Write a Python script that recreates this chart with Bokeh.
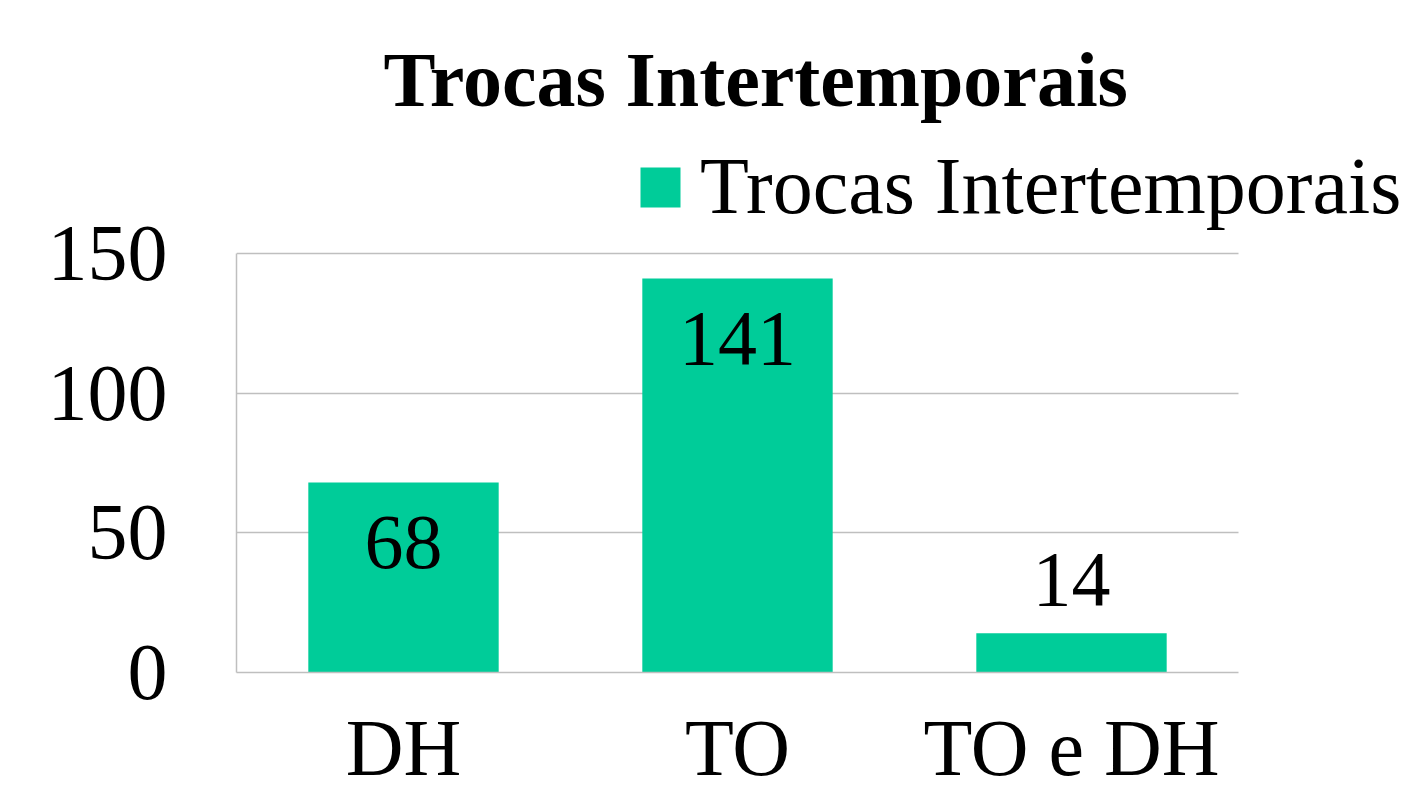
from bokeh.plotting import figure
from bokeh.models import ColumnDataSource, Range1d, Legend, LegendItem, FixedTicker, Title, Grid
from bokeh.embed import file_html
from bokeh.resources import INLINE
from bokeh.core.properties import value

categories = ["DH", "TO", "TO e DH"]
values = [68, 141, 14]
series_name = "Trocas Intertemporais"
title_text = "Trocas Intertemporais"
y_ticks = [0, 50, 100, 150]

FONT = "Liberation Serif"
BAR = "#00CC99"
GRID = "#BFBFBF"

# frame is larger than the plotted area so the legend (drawn inside the frame) is not clipped;
# axis lines / grid lines are limited with bounds.
n = len(categories)
X_RIGHT = n * (1406 - 236) / 1002.0
Y_TOP = 150 + (253 - 135) / 2.8
xpos = [i + 0.5 for i in range(n)]

label_offsets = [60 if v > 30 else -54 for v in values]
src = ColumnDataSource(dict(x=xpos, cat=categories, val=values, txt=[str(v) for v in values], yoff=label_offsets))

p = figure(width=1410, height=794, output_backend="svg", toolbar_location=None, title=None,
           x_range=Range1d(0, X_RIGHT), y_range=Range1d(0, Y_TOP),
           min_border_left=236, min_border_right=4, min_border_top=135, min_border_bottom=121)
p.outline_line_color = None

r = p.vbar(x="x", top="val", width=0.57, source=src, fill_color=BAR, line_color=None)
p.text(x="x", y="val", text="txt", y_offset="yoff", source=src, text_align="center",
       text_baseline="middle", text_font=value(FONT), text_font_size="78px", text_color="black")

p.yaxis.ticker = FixedTicker(ticks=y_ticks)
p.yaxis.bounds = (0, 150)
p.yaxis.major_label_text_font = FONT
p.yaxis.major_label_text_font_size = "80px"
p.yaxis.major_label_text_color = "black"
p.yaxis.major_label_standoff = 63
p.yaxis.major_tick_line_color = None
p.yaxis.minor_tick_line_color = None
p.yaxis.axis_line_color = GRID
p.yaxis.axis_line_width = 1.5

p.xaxis.ticker = FixedTicker(ticks=xpos)
p.xaxis.major_label_overrides = {xv: c for xv, c in zip(xpos, categories)}
p.xaxis.bounds = (0, n)
p.xaxis.major_label_text_font = FONT
p.xaxis.major_label_text_font_size = "80px"
p.xaxis.major_label_text_color = "black"
p.xaxis.major_label_standoff = 25
p.xaxis.major_tick_line_color = None
p.xaxis.minor_tick_line_color = None
p.xaxis.axis_line_color = GRID
p.xaxis.axis_line_width = 1.5

p.xgrid.grid_line_color = None
p.ygrid.grid_line_color = GRID
p.ygrid.grid_line_width = 1.5
if "cross_bounds" in Grid.properties():
    p.ygrid.cross_bounds = (0, n)

legend = Legend(items=[LegendItem(label=series_name, renderers=[r])], location=(399, 440),
                glyph_width=50, glyph_height=50, label_standoff=15, padding=0, margin=0,
                label_text_font=FONT, label_text_font_size="80px", label_text_color="black",
                border_line_color=None, background_fill_alpha=0)
p.add_layout(legend, "center")

title = Title(text=title_text, text_font=FONT, text_font_style="bold", text_font_size="78px",
              text_color="black", align="left", offset=147, standoff=26)
p.add_layout(title, "above")

open("out.html", "w").write(file_html(p, INLINE))
